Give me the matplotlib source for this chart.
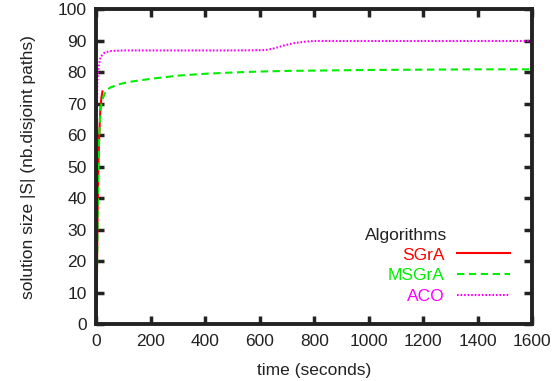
import numpy as np
import matplotlib
matplotlib.use('Agg')
import matplotlib.pyplot as plt

plt.rcParams['font.family'] = ['Liberation Sans', 'DejaVu Sans']
plt.rcParams['font.size'] = 12.5

# data
sgra_t = [0, 2, 4, 7, 10, 14, 18, 22]
sgra_s = [0, 18, 35, 50, 60, 68, 72, 74]

msgra_t = [0, 3, 6, 10, 15, 20, 33, 50, 80, 120, 200, 300, 400, 500, 600, 700, 800, 1000, 1200, 1400, 1600]
msgra_s = [0, 25, 45, 60, 68, 71, 74, 75.2, 76.2, 77, 78, 79, 79.6, 80, 80.3, 80.5, 80.6, 80.8, 80.9, 81, 81]

aco_t = [1, 3, 8, 15, 30, 50, 100, 300, 500, 620, 650, 690, 730, 770, 800, 1000, 1600]
aco_s = [64, 77, 82, 85, 86.3, 86.8, 87, 87, 87, 87.1, 87.6, 88.6, 89.4, 89.8, 90, 90, 90]

fig = plt.figure(figsize=(5.59, 3.81), dpi=100)
ax = fig.add_axes([0.1726, 0.1483, 0.779, 0.8268])

ax.plot(sgra_t, sgra_s, color='#ff0000', lw=1.5, label='SGrA')
ax.plot(msgra_t, msgra_s, color='#00ee00', lw=1.5, dashes=(3.5, 2.2), label='MSGrA')
ax.plot(aco_t, aco_s, color='#ff00ff', lw=1.5, dashes=(0.8, 0.9), label='ACO')

ax.set_xlim(0, 1600)
ax.set_ylim(0, 100)
ax.set_xticks(np.arange(0, 1601, 200))
ax.set_yticks(np.arange(0, 101, 10))
ax.tick_params(direction='in', length=6, width=2.5, top=True, right=True,
               colors='#222222', labelcolor='#222222', pad=7)
for sp in ax.spines.values():
    sp.set_linewidth(2.8)
    sp.set_color('#222222')

ax.set_xlabel('time (seconds)', color='#222222', labelpad=10)
ax.set_ylabel('solution size |S| (nb.disjoint paths)', color='#222222', labelpad=16)

leg = ax.legend(loc='lower right', bbox_to_anchor=(0.9495, 0.064), frameon=False,
                markerfirst=False, handlelength=3.06, handletextpad=0.72,
                labelspacing=0.33, borderpad=0, borderaxespad=0)
for txt, line in zip(leg.get_texts(), leg.get_lines()):
    txt.set_color(line.get_color())
ax.text(0.805, 0.284, 'Algorithms', transform=ax.transAxes, ha='right', va='center',
        color='#222222')

fig.savefig('out.png', dpi=100)
